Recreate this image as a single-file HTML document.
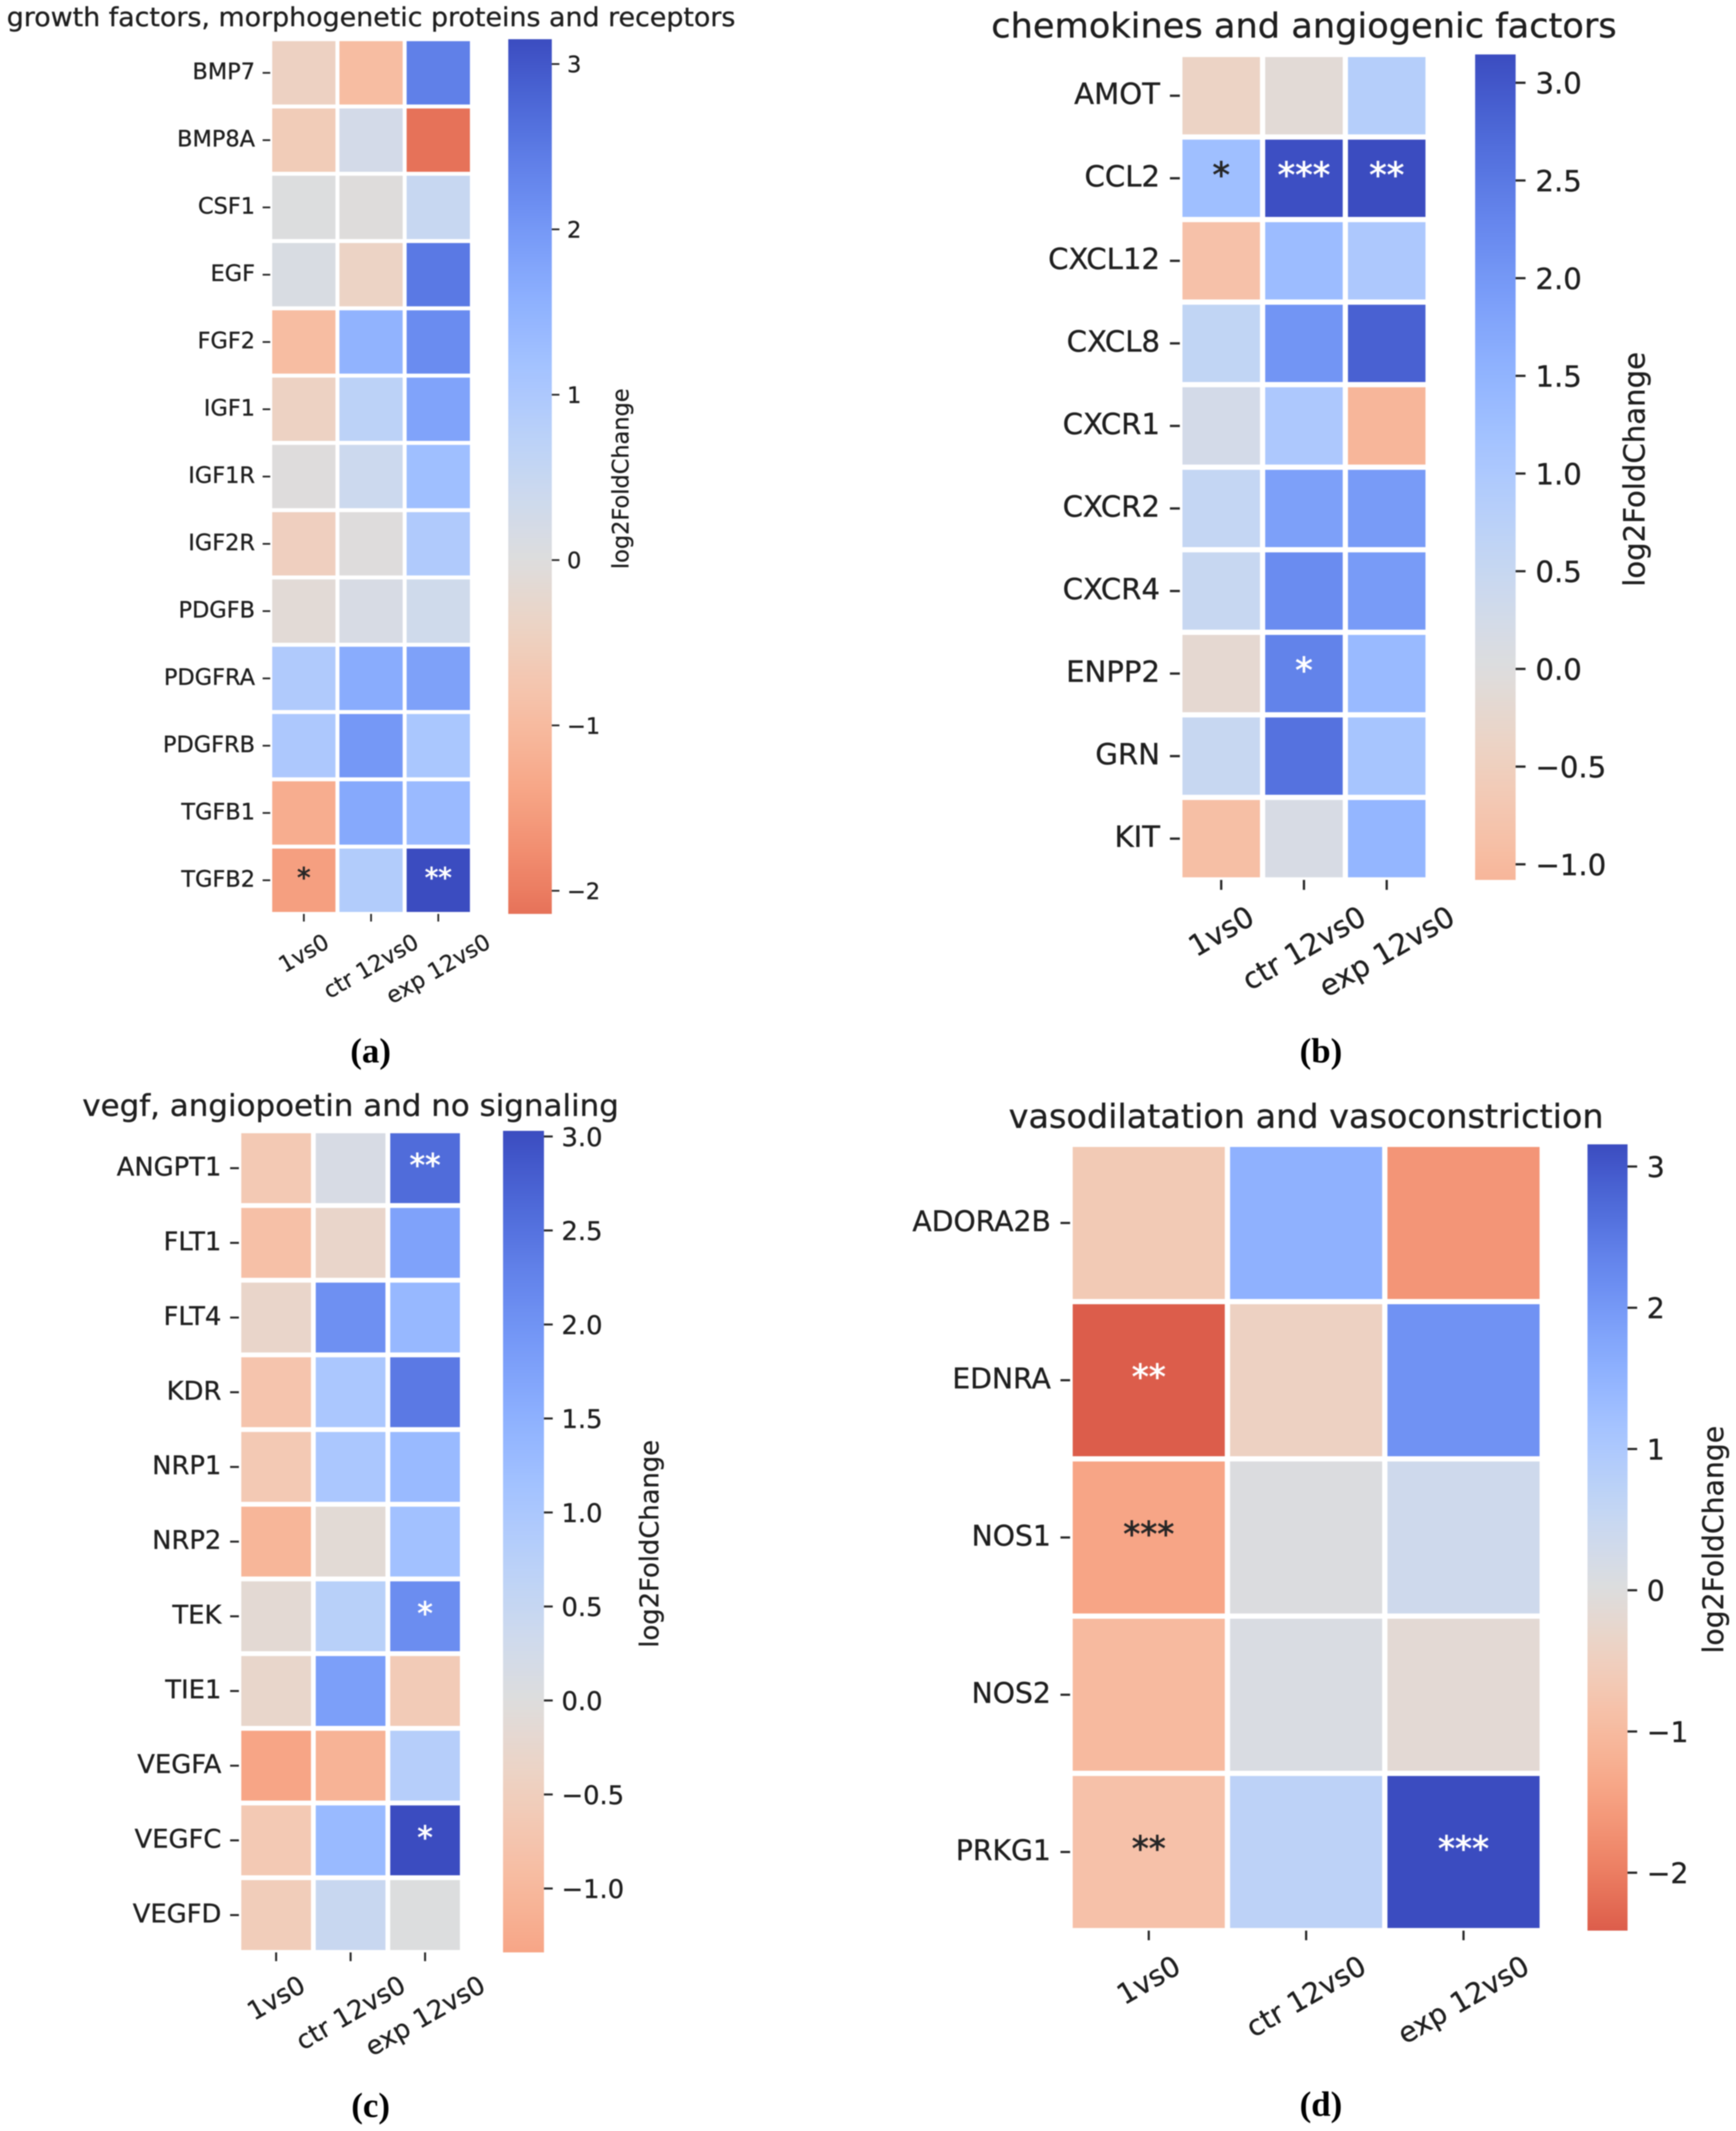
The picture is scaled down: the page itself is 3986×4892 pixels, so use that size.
<!DOCTYPE html>
<html lang="en">
<head>
<meta charset="utf-8">
<title>Heatmaps of log2FoldChange</title>
<style>
html,body{margin:0;padding:0;background:#fff;width:3986px;height:4892px;overflow:hidden}
svg{display:block;filter:blur(1.2px)}
text{font-family:"DejaVu Sans","Liberation Sans",sans-serif;fill:#1f1f1f;stroke:#1f1f1f;stroke-width:0.7px}
.caption{font-family:"Liberation Serif",serif;font-weight:bold;font-size:80px;fill:#000;stroke:none}
</style>
</head>
<body>
<svg id="figure" xmlns="http://www.w3.org/2000/svg" width="3986" height="4892" viewBox="0 0 3986 4892">
  <rect width="3986" height="4892" fill="#ffffff"/>
  <defs id="gradients"></defs>
  <g id="panel-a"></g>
  <g id="panel-b"></g>
  <g id="panel-c"></g>
  <g id="panel-d"></g>
  <text class="caption" x="851" y="2439" text-anchor="middle">(a)</text>
  <text class="caption" x="3033" y="2439" text-anchor="middle">(b)</text>
  <text class="caption" x="851" y="4860" text-anchor="middle">(c)</text>
  <text class="caption" x="3033" y="4857" text-anchor="middle">(d)</text>
</svg>
<script>
// ---------- shared categories ----------
const comparisons = ["1vs0", "ctr 12vs0", "exp 12vs0"];

// ---------- panel a data ----------
const titleA = "growth factors, morphogenetic proteins and receptors";
const genesA = ["BMP7","BMP8A","CSF1","EGF","FGF2","IGF1","IGF1R","IGF2R","PDGFB","PDGFRA","PDGFRB","TGFB1","TGFB2"];
const a1vs0 = [-0.45,-0.6,0.03,0.12,-0.95,-0.42,-0.02,-0.5,-0.12,0.95,1.0,-1.25,-1.5];
const aCtr  = [-0.95,0.25,-0.03,-0.4,1.5,0.7,0.4,-0.02,0.15,1.65,2.0,1.7,0.9];
const aExp  = [2.4,-2.14,0.5,2.5,2.2,1.8,1.25,0.95,0.32,1.85,1.05,1.35,3.15];
const starsA1vs0 = ["","","","","","","","","","","","","*"];
const starsACtr  = ["","","","","","","","","","","","",""];
const starsAExp  = ["","","","","","","","","","","","","**"];
const barTicksA = [3,2,1,0,-1,-2];
const barLabelsA = ["3","2","1","0","\u22121","\u22122"];

// ---------- panel b data ----------
const titleB = "chemokines and angiogenic factors";
const genesB = ["AMOT","CCL2","CXCL12","CXCL8","CXCR1","CXCR2","CXCR4","ENPP2","GRN","KIT"];
const b1vs0 = [-0.4,1.25,-0.85,0.6,0.25,0.55,0.5,-0.2,0.5,-0.9];
const bCtr  = [-0.12,3.1,1.3,2.05,1.0,1.85,2.2,2.35,2.6,0.15];
const bExp  = [0.85,3.145,1.0,2.85,-1.08,1.95,1.95,1.35,1.1,1.45];
const starsB1vs0 = ["","*","","","","","","","",""];
const starsBCtr  = ["","***","","","","","","*","",""];
const starsBExp  = ["","**","","","","","","","",""];
const barTicksB = [3,2.5,2,1.5,1,0.5,0,-0.5,-1];
const barLabelsB = ["3.0","2.5","2.0","1.5","1.0","0.5","0.0","\u22120.5","\u22121.0"];

// ---------- panel c data ----------
const titleC = "vegf, angiopoetin and no signaling";
const genesC = ["ANGPT1","FLT1","FLT4","KDR","NRP1","NRP2","TEK","TIE1","VEGFA","VEGFC","VEGFD"];
const c1vs0 = [-0.65,-0.85,-0.3,-0.75,-0.65,-1.05,-0.15,-0.28,-1.34,-0.65,-0.55];
const cCtr  = [0.15,-0.3,2.05,1.0,1.0,-0.13,0.75,1.8,-1.1,1.3,0.45];
const cExp  = [2.6,1.75,1.35,2.4,1.3,1.15,2.1,-0.6,0.8,3.03,0.02];
const starsC1vs0 = ["","","","","","","","","","",""];
const starsCCtr  = ["","","","","","","","","","",""];
const starsCExp  = ["**","","","","","","*","","","*",""];
const barTicksC = [3,2.5,2,1.5,1,0.5,0,-0.5,-1];
const barLabelsC = ["3.0","2.5","2.0","1.5","1.0","0.5","0.0","\u22120.5","\u22121.0"];

// ---------- panel d data ----------
const titleD = "vasodilatation and vasoconstriction";
const genesD = ["ADORA2B","EDNRA","NOS1","NOS2","PRKG1"];
const d1vs0 = [-0.65,-2.41,-1.4,-1.0,-0.85];
const dCtr  = [1.55,-0.45,0.05,0.1,0.7];
const dExp  = [-1.65,2.1,0.35,-0.15,3.157];
const starsD1vs0 = ["","**","***","","**"];
const starsDCtr  = ["","","","",""];
const starsDExp  = ["","","","","***"];
const barTicksD = [3,2,1,0,-1,-2];
const barLabelsD = ["3","2","1","0","\u22121","\u22122"];

// ---------- colormap (coolwarm, blue end first) ----------
const coolwarm = [[59,76,192],[68,90,204],[77,104,215],[87,117,225],[98,130,234],[108,142,241],[119,154,247],[130,165,251],[141,176,254],[152,185,255],[163,194,255],[174,201,253],[184,208,249],[194,213,244],[204,217,238],[213,219,230],[221,221,221],[229,216,209],[236,211,197],[241,204,185],[245,196,173],[247,187,160],[247,177,148],[247,166,135],[244,154,123],[241,141,111],[236,127,99],[229,112,88],[222,96,77],[213,80,66],[203,62,56],[192,40,47],[180,4,38]];
function rgbAt(t){
  const p = Math.max(0, Math.min(1, t)) * (coolwarm.length - 1);
  const i = Math.min(coolwarm.length - 2, Math.floor(p));
  const f = p - i;
  return coolwarm[i].map((c, k) => Math.round(c + (coolwarm[i + 1][k] - c) * f));
}
function luminance(rgb){
  const lin = rgb.map(c => { c /= 255; return c <= 0.03928 ? c / 12.92 : Math.pow((c + 0.055) / 1.055, 2.4); });
  return 0.2126 * lin[0] + 0.7152 * lin[1] + 0.0722 * lin[2];
}

// ---------- drawing ----------
const NS = "http://www.w3.org/2000/svg";
function mk(tag, parent){
  const el = document.createElementNS(NS, tag);
  parent.appendChild(el);
  return el;
}
function setAll(el, attrs){
  for (const k in attrs) el.setAttribute(k, attrs[k]);
}

function drawPanel(id, frame, title, genes, columns, stars, barTicks, barLabels){
  const g = document.getElementById(id);
  const size = frame.font, textSize = size * 1.03, unit = size / 10, tickLen = 3.5 * unit, pad = 3.5 * unit, tickW = 0.8 * unit;
  const all = columns.flat();
  const vmin = Math.min(...all), vmax = Math.max(...all);
  const vrange = Math.max(Math.abs(vmin), Math.abs(vmax));
  const colorT = v => 0.5 - 0.5 * v / vrange;
  const xBand = i => frame.left + (frame.right - frame.left) * i / comparisons.length;
  const yBand = j => frame.top + (frame.bottom - frame.top) * j / genes.length;
  const xMid = i => (xBand(i) + xBand(i + 1)) / 2;
  const yMid = j => (yBand(j) + yBand(j + 1)) / 2;
  const barY = v => frame.bottom - (v - vmin) / (vmax - vmin) * (frame.bottom - frame.top);

  // title
  const t = mk("text", g);
  
  
  setAll(t, {x:(frame.left + frame.right) / 2, y:frame.top - 6 * unit, "text-anchor":"middle", "font-size":size * 1.2,
    textLength:frame.titleWidth, lengthAdjust:"spacingAndGlyphs"});
  t.textContent = title;

  // cells
  columns.forEach((col, i) => {
    col.forEach((v, j) => {
      const rgb = rgbAt(colorT(v));
      const cell = mk("rect", g);
      
      
      setAll(cell, {x:xBand(i), y:yBand(j), width:xBand(i + 1) - xBand(i), height:yBand(j + 1) - yBand(j),
        fill:"rgb(" + rgb.join(",") + ")", stroke:"#ffffff", "stroke-width":frame.grid});
      const s = stars[i][j];
      if (s) {
        const a = mk("text", g);
        
        
        setAll(a, {x:xMid(i), y:yMid(j) + size * 1.2 * 0.26, "text-anchor":"middle", "font-size":size * 1.24});
        const starColor = luminance(rgb) < 0.408 ? "#ffffff" : "#262626";
        a.style.fill = starColor;
        a.style.stroke = starColor;
        a.style.strokeWidth = "1.5px";
        a.textContent = s;
      }
    });
  });

  // y axis
  genes.forEach((name, j) => {
    const tick = mk("line", g);
    
    
    setAll(tick, {x1:frame.left - tickLen, x2:frame.left, y1:yMid(j), y2:yMid(j), stroke:"#262626", "stroke-width":tickW});
    const lab = mk("text", g);
    
    
    setAll(lab, {x:frame.left - tickLen - pad, y:yMid(j) + size * 0.29, "text-anchor":"end", "font-size":textSize});
    lab.textContent = name;
  });

  // x axis
  comparisons.forEach((name, i) => {
    const tick = mk("line", g);
    
    
    setAll(tick, {x1:xMid(i), x2:xMid(i), y1:frame.bottom, y2:frame.bottom + tickLen, stroke:"#262626", "stroke-width":tickW});
    const lab = mk("text", g);
    
    
    setAll(lab, {"text-anchor":"middle", "dominant-baseline":"central", "font-size":textSize});
    lab.textContent = name;
    const half = (lab.getComputedTextLength() * 0.5 + size * 1.16 * 0.866) / 2;
    const cy = frame.bottom + tickLen + pad + half;
    lab.setAttribute("transform", "translate(" + xMid(i) + "," + cy + ") rotate(-30)");
  });

  // colorbar
  const gradId = "gradient-" + id;
  const grad = mk("linearGradient", document.getElementById("gradients"));
  setAll(grad, {id:gradId, x1:0, x2:0, y1:0, y2:1});
  for (let k = 0; k <= 64; k++) {
    const v = vmax - (vmax - vmin) * k / 64;
    const stop = mk("stop", grad);
    setAll(stop, {offset:k / 64, "stop-color":"rgb(" + rgbAt(colorT(v)).join(",") + ")"});
  }
  const bar = mk("rect", g);
  
  
  setAll(bar, {x:frame.barLeft, y:frame.top, width:frame.barRight - frame.barLeft, height:frame.bottom - frame.top, fill:"url(#" + gradId + ")"});
  barTicks.forEach((v, k) => {
    const tick = mk("line", g);
    
    
    setAll(tick, {x1:frame.barRight, x2:frame.barRight + tickLen, y1:barY(v), y2:barY(v), stroke:"#262626", "stroke-width":tickW});
    const lab = mk("text", g);
    
    
    setAll(lab, {x:frame.barRight + tickLen + pad, y:barY(v) + size * 0.38, "font-size":textSize});
    lab.textContent = barLabels[k];
  });
  const cb = mk("text", g);
  
  
  const cbY = (frame.top + frame.bottom) / 2 + 5;
  setAll(cb, {"text-anchor":"middle", "dominant-baseline":"central", "font-size":textSize,
    transform:"translate(" + frame.cbTitleX + "," + cbY + ") rotate(-90)"});
  cb.textContent = "log2FoldChange";
}

drawPanel("panel-a", {left:620.5,right:1083.5,top:90,bottom:2098,barLeft:1167,barRight:1267,cbTitleX:1426,font:50,grid:9,titleWidth:1673},
  titleA, genesA, [a1vs0,aCtr,aExp], [starsA1vs0,starsACtr,starsAExp], barTicksA, barLabelsA);
drawPanel("panel-b", {left:2709,right:3279,top:125,bottom:2020,barLeft:3387,barRight:3480,cbTitleX:3753,font:65,grid:12,titleWidth:1436},
  titleB, genesB, [b1vs0,bCtr,bExp], [starsB1vs0,starsBCtr,starsBExp], barTicksB, barLabelsB);
drawPanel("panel-c", {left:548.5,right:1061.5,top:2596,bottom:4482,barLeft:1155,barRight:1249,cbTitleX:1491,font:57.5,grid:11,titleWidth:1232},
  titleC, genesC, [c1vs0,cCtr,cExp], [starsC1vs0,starsCCtr,starsCExp], barTicksC, barLabelsC);
drawPanel("panel-d", {left:2457,right:3541,top:2627,bottom:4432,barLeft:3645,barRight:3737,cbTitleX:3935,font:63,grid:12,titleWidth:1366},
  titleD, genesD, [d1vs0,dCtr,dExp], [starsD1vs0,starsDCtr,starsDExp], barTicksD, barLabelsD);
</script>
</body>
</html>
